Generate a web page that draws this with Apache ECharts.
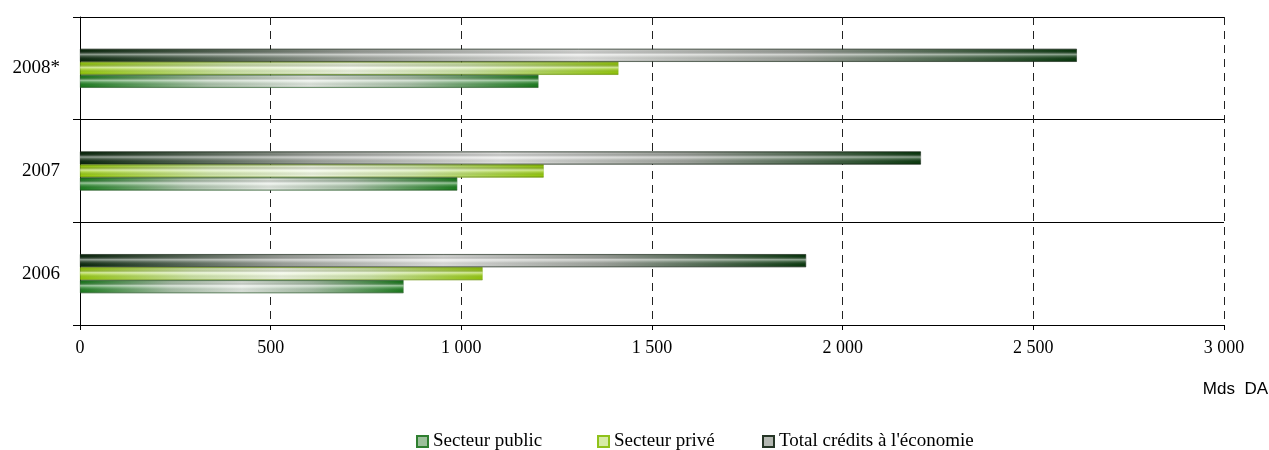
<!DOCTYPE html>
<html>
<head>
<meta charset="utf-8">
<script src="https://cdn.jsdelivr.net/npm/echarts@6/dist/echarts.min.js"></script>
<style>
  html, body { margin: 0; padding: 0; background: #fff; }
  #chart { width: 1269px; height: 450px; }
</style>
</head>
<body>
<div id="chart"></div>
<script>
// Crédits à l'économie par secteur (milliards de DA)
const categories = ['2006', '2007', '2008*'];
const secteurPublic = [848.4, 989.3, 1202.2];
const secteurPrive = [1055.7, 1215.9, 1411.9];
const totalCredits = [1904.1, 2205.2, 2614.1];
const xTicks = [0, 500, 1000, 1500, 2000, 2500, 3000];
const legendNames = ['Secteur public', 'Secteur privé', 'Total crédits à l\'économie'];

const serif = '"Liberation Serif", "DejaVu Serif", serif';

// horizontal shading: dark at both ends, pale in the middle
function shade(edgeL, mid1, mid, mid2, edgeR) {
  return new echarts.graphic.LinearGradient(0, 0, 1, 0, [
    { offset: 0, color: edgeL },
    { offset: 0.28, color: mid1 },
    { offset: 0.5, color: mid },
    { offset: 0.72, color: mid2 },
    { offset: 1, color: edgeR }
  ]);
}

// glossy stripe across the thickness of each bar
const gloss = new echarts.graphic.LinearGradient(0, 0, 0, 1, [
  { offset: 0, color: 'rgba(0,0,0,0.28)' },
  { offset: 0.15, color: 'rgba(0,0,0,0.05)' },
  { offset: 0.42, color: 'rgba(255,255,255,0.55)' },
  { offset: 0.55, color: 'rgba(255,255,255,0.25)' },
  { offset: 0.85, color: 'rgba(0,0,0,0.02)' },
  { offset: 1, color: 'rgba(0,0,0,0.25)' }
]);

const styles = {
  public: shade('#1d7f1f', '#a9c2a8', '#e2e9e1', '#a6c0a5', '#1b7d1d'),
  prive: shade('#97cb0f', '#cfe6a6', '#eef6e0', '#cde5a3', '#95c90d'),
  total: shade('#0c2a0e', '#9fa49d', '#e2e3e1', '#9ea39c', '#0a3a0e')
};

const legendColors = {
  'Secteur public': ['#9cc09b', '#2f7f30'],
  'Secteur privé': ['#d6eba6', '#8fc21a'],
  'Total crédits à l\'économie': ['#b4b8b2', '#263626']
};
const legendLeft = [416, 597, 762];

const BAR_W = 13;

function mainSeries(name, data, color, border) {
  return {
    name: name, type: 'bar', data: data, yAxisIndex: 0,
    barWidth: BAR_W, barGap: '0%',
    itemStyle: { color: color, borderColor: border, borderWidth: 0.6 }
  };
}
function glossSeries(data) {
  return {
    type: 'bar', data: data, yAxisIndex: 1, silent: true,
    barWidth: BAR_W, barGap: '0%',
    itemStyle: { color: gloss }, tooltip: { show: false }
  };
}

const chart = echarts.init(document.getElementById('chart'), null, { renderer: 'canvas' });
chart.setOption({
  animation: false,
  backgroundColor: '#ffffff',
  grid: { left: 80, right: 45, top: 17, bottom: 125, containLabel: false },
  legend: legendNames.map((n, i) => ({
    data: [{
      name: n,
      icon: 'rect',
      itemStyle: { color: legendColors[n][0], borderColor: legendColors[n][1], borderWidth: 2 }
    }],
    top: 432,
    left: legendLeft[i],
    padding: 0,
    itemWidth: 11,
    itemHeight: 11,
    textStyle: { fontFamily: serif, fontSize: 19, color: '#000' }
  })),
  xAxis: {
    type: 'value', min: 0, max: 3000, interval: 500,
    axisLine: { show: true, lineStyle: { color: '#000', width: 1 } },
    axisTick: { show: true, length: 5, lineStyle: { color: '#000' } },
    axisLabel: {
      margin: 14, fontFamily: serif, fontSize: 18, color: '#000',
      formatter: v => xTicks.includes(v) ? String(v).replace(/\B(?=(\d{3})+(?!\d))/g, ' ') : ''
    },
    splitLine: { show: true, lineStyle: { color: '#222', type: [8, 6], width: 1 } }
  },
  yAxis: [
    {
      type: 'category', data: categories,
      axisLine: { show: true, lineStyle: { color: '#000', width: 1 } },
      axisTick: { show: true, length: 7, lineStyle: { color: '#000' } },
      axisLabel: { margin: 20, fontFamily: serif, fontSize: 19, color: '#000' },
      splitLine: { show: true, lineStyle: { color: '#000', width: 1 } }
    },
    { type: 'category', data: categories, show: false }
  ],
  graphic: [{
    type: 'text', right: 1, top: 381,
    style: { text: 'Mds  DA', font: '17px "Liberation Sans", Arial, sans-serif', fill: '#000' }
  }],
  // series listed top bar first within each year
  series: [
    mainSeries(legendNames[2], totalCredits, styles.total, '#1f331f'),
    mainSeries(legendNames[1], secteurPrive, styles.prive, '#8cbf10'),
    mainSeries(legendNames[0], secteurPublic, styles.public, '#3a7a3a'),
    glossSeries(totalCredits),
    glossSeries(secteurPrive),
    glossSeries(secteurPublic)
  ]
});
</script>
</body>
</html>
